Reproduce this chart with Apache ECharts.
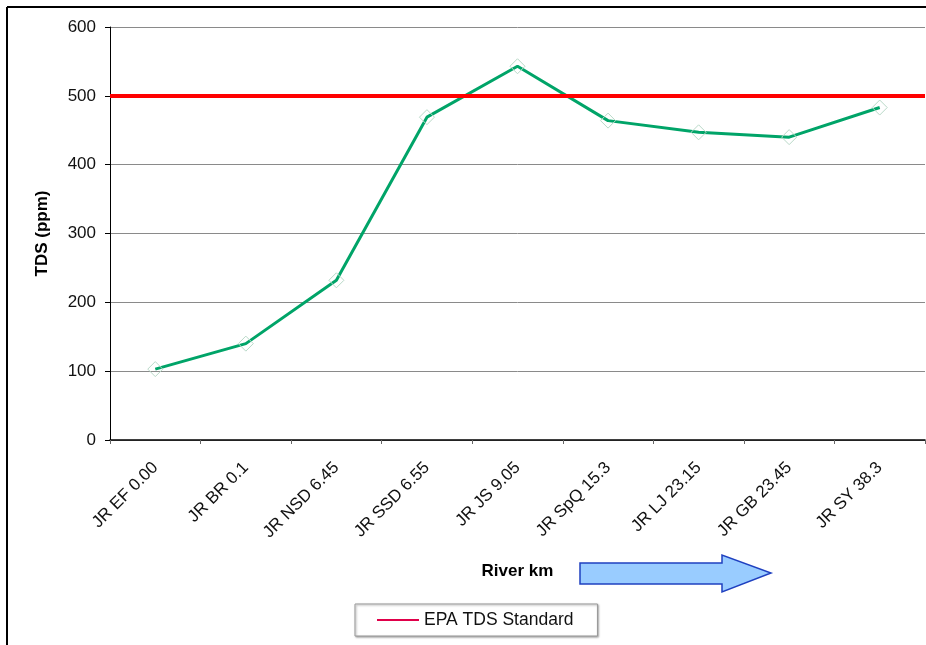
<!DOCTYPE html>
<html>
<head>
<meta charset="utf-8">
<title>TDS along the river</title>
<script src="https://cdn.jsdelivr.net/npm/echarts@6/dist/echarts.min.js"></script>
<style>
  html, body { margin: 0; padding: 0; background: #fff; }
  #chart { width: 926px; height: 645px; }
</style>
</head>
<body>
<div id="chart"></div>
<script>
// Sampling stations along the river (name + river km)
const stations = ['JR EF 0.00', 'JR BR 0.1', 'JR NSD 6.45', 'JR SSD 6.55', 'JR JS 9.05',
                  'JR SpQ 15.3', 'JR LJ 23.15', 'JR GB 23.45', 'JR SY 38.3'];
// Measured total dissolved solids (ppm)
const tdsValues = [103, 140, 232, 469, 543, 464, 447, 440, 483];
// EPA secondary standard for TDS (ppm)
const epaStandard = 500;
// Value axis ticks
const yMin = 0, yMax = 600, yStep = 100;

const font = 'Liberation Sans, Arial, sans-serif';
const chart = echarts.init(document.getElementById('chart'));

chart.setOption({
  animation: false,
  backgroundColor: '#ffffff',
  textStyle: { fontFamily: font },
  grid: { left: 110, right: 1, top: 27, bottom: 205, containLabel: false },
  xAxis: {
    type: 'category',
    data: stations,
    boundaryGap: true,
    name: 'River km',
    nameLocation: 'middle',
    nameGap: 123,
    nameTextStyle: { fontFamily: font, fontSize: 17, fontWeight: 'bold', color: '#000' },
    axisLine: { show: true, lineStyle: { color: '#000', width: 1.5 } },
    axisTick: { show: true, alignWithLabel: false, length: 4, lineStyle: { color: '#666' } },
    axisLabel: { rotate: 45, fontFamily: font, fontSize: 17, color: '#111', margin: 25, interval: 0 },
    splitLine: { show: false }
  },
  yAxis: {
    type: 'value',
    min: yMin,
    max: yMax,
    interval: yStep,
    name: 'TDS (ppm)',
    nameLocation: 'middle',
    nameGap: 59,
    nameTextStyle: { fontFamily: font, fontSize: 17, fontWeight: 'bold', color: '#000' },
    axisLine: { show: true, lineStyle: { color: '#000', width: 1 } },
    axisTick: { show: true, inside: false, length: 5, lineStyle: { color: '#000' } },
    axisLabel: { fontFamily: font, fontSize: 17, color: '#111', margin: 14 },
    splitLine: { show: true, lineStyle: { color: '#8a8a8a', width: 1 } }
  },
  legend: {
    data: ['EPA TDS Standard'],
    left: 355,
    top: 604,
    orient: 'horizontal',
    icon: 'rect',
    itemWidth: 42,
    itemHeight: 2,
    itemGap: 4,
    padding: [7, 24, 7, 22],
    backgroundColor: '#fff',
    borderColor: '#999',
    borderWidth: 1,
    shadowColor: 'rgba(0,0,0,0.35)',
    shadowBlur: 2,
    shadowOffsetX: 1,
    shadowOffsetY: 1,
    textStyle: { fontFamily: font, fontSize: 17.5, color: '#111', padding: [0, 0, 0, 0] }
  },
  series: [
    {
      name: 'TDS',
      type: 'line',
      data: tdsValues,
      symbol: 'diamond',
      symbolSize: 15,
      showSymbol: true,
      lineStyle: { color: '#00a468', width: 3 },
      itemStyle: { color: 'rgba(255,255,255,0)', borderColor: '#b9d9c8', borderWidth: 1 },
      z: 3
    },
    {
      name: 'EPA TDS Standard',
      type: 'line',
      data: [],
      color: '#ee0000',
      lineStyle: { color: '#e0004a', width: 2 },
      itemStyle: { color: '#e0004a' },
      markLine: {
        silent: true,
        symbol: ['none', 'none'],
        label: { show: false },
        lineStyle: { color: '#ff0000', width: 4, type: 'solid' },
        data: [{ yAxis: epaStandard }]
      },
      z: 2
    }
  ],
  graphic: [
    // outer frame (left and top edges)
    { type: 'line', shape: { x1: 7, y1: 7, x2: 926, y2: 7 }, style: { stroke: '#000', lineWidth: 2 } },
    { type: 'line', shape: { x1: 7, y1: 7, x2: 7, y2: 645 }, style: { stroke: '#000', lineWidth: 2 } },
    // downstream direction arrow
    {
      type: 'polygon',
      shape: { points: [[580, 563], [722, 563], [722, 555], [771, 573], [722, 592], [722, 584], [580, 584]] },
      style: { fill: '#99ccff', stroke: '#1f40c0', lineWidth: 1.5 }
    }
  ]
});
</script>
</body>
</html>
